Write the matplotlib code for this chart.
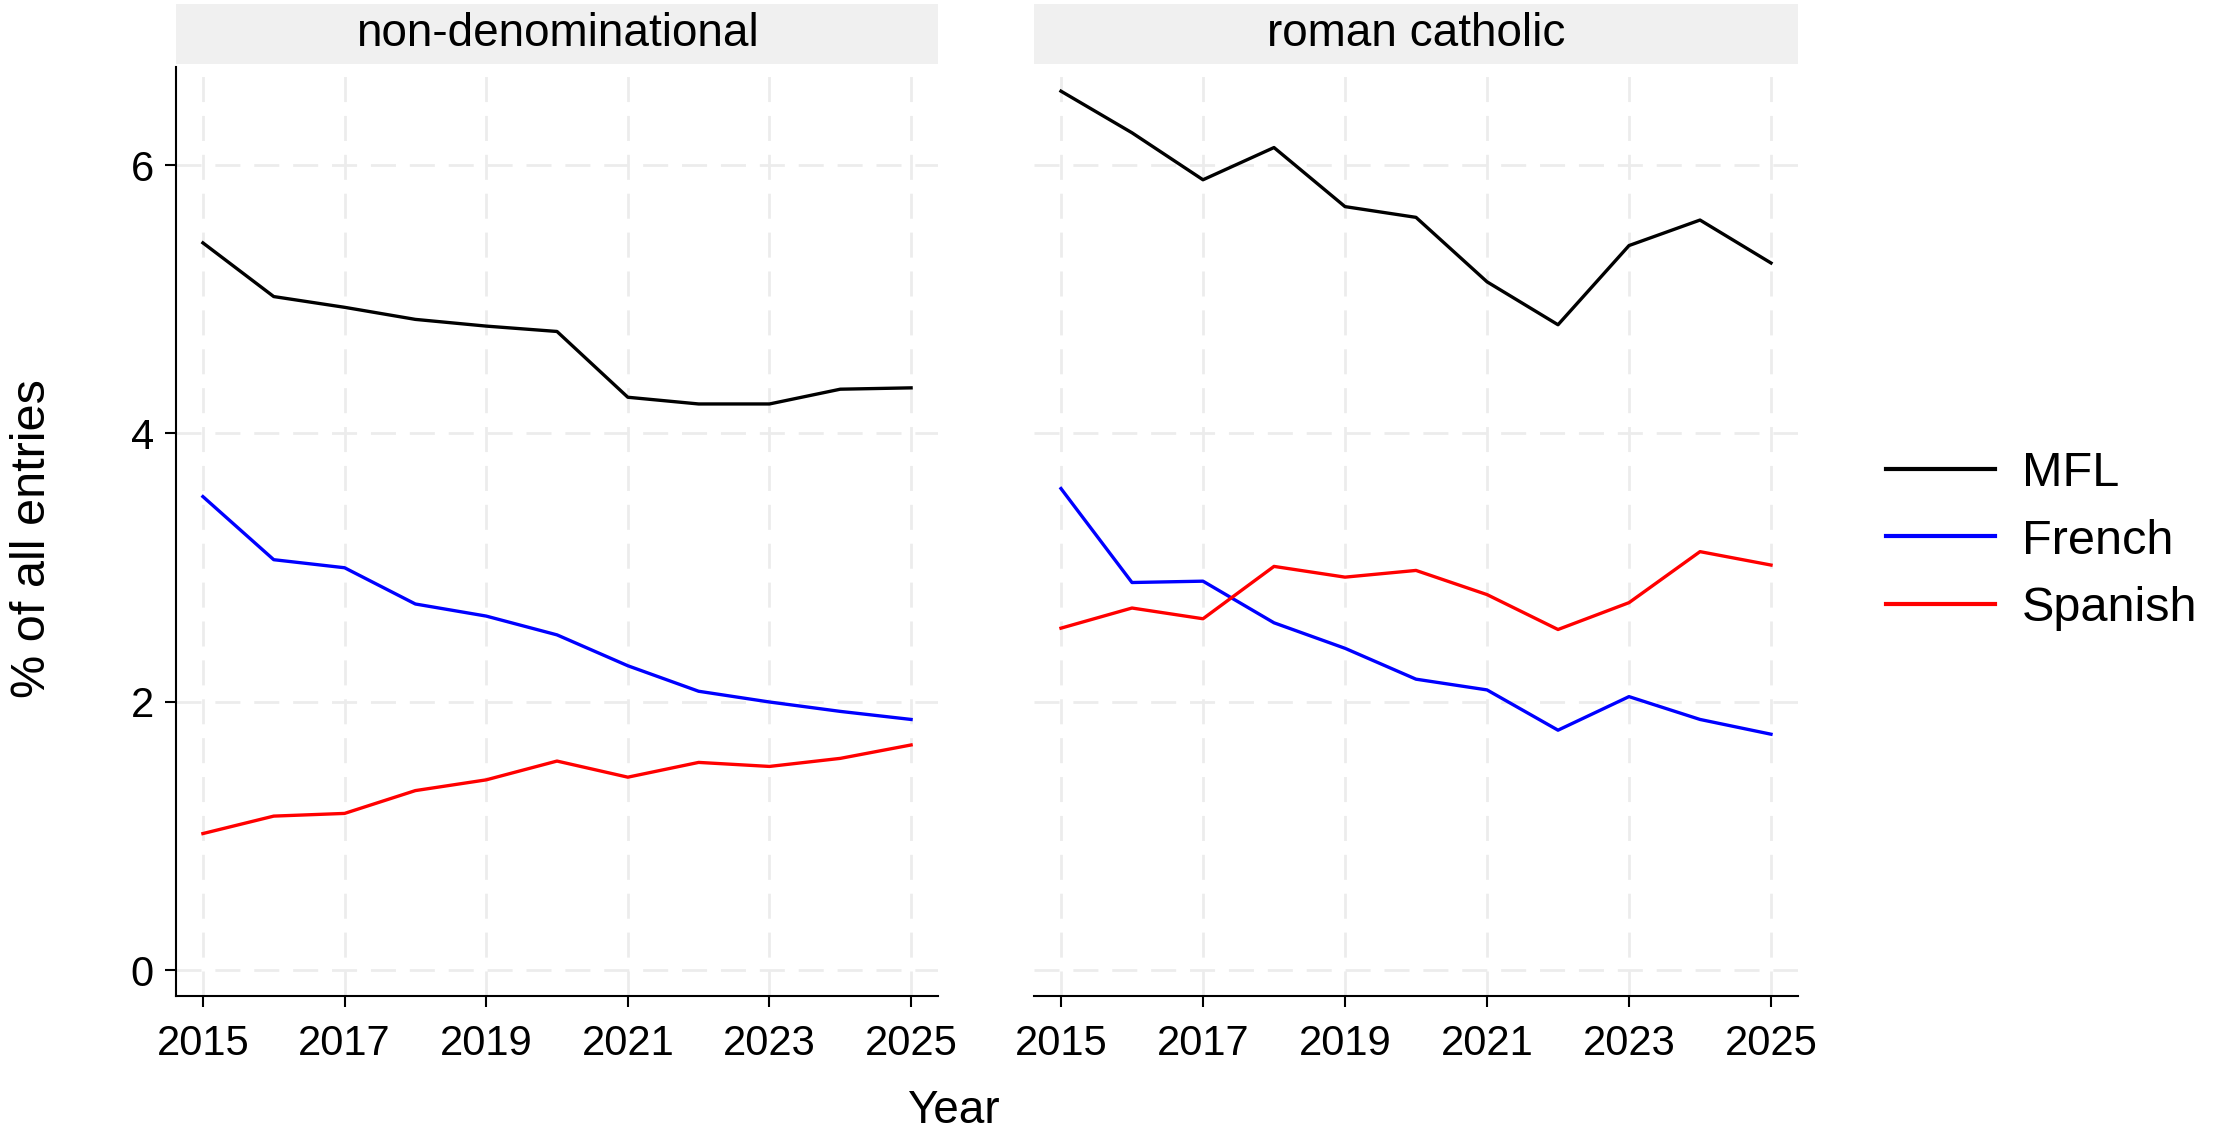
import numpy as np
import matplotlib
matplotlib.use("Agg")
import matplotlib.pyplot as plt
from matplotlib.patches import Rectangle

plt.rcParams['font.family'] = ['Liberation Sans', 'DejaVu Sans']

years = list(range(2015, 2026))
panels = ["non-denominational", "roman catholic"]
languages = ["MFL", "French", "Spanish"]
colors = ["black", "blue", "red"]

# % of all entries
mfl_nondenom = [5.42, 5.02, 4.94, 4.85, 4.80, 4.76, 4.27, 4.22, 4.22, 4.33, 4.34]
french_nondenom = [3.53, 3.06, 3.00, 2.73, 2.64, 2.50, 2.27, 2.08, 2.00, 1.93, 1.87]
spanish_nondenom = [1.02, 1.15, 1.17, 1.34, 1.42, 1.56, 1.44, 1.55, 1.52, 1.58, 1.68]

mfl_catholic = [6.55, 6.24, 5.89, 6.13, 5.69, 5.61, 5.13, 4.81, 5.40, 5.59, 5.27]
french_catholic = [3.59, 2.89, 2.90, 2.59, 2.40, 2.17, 2.09, 1.79, 2.04, 1.87, 1.76]
spanish_catholic = [2.55, 2.70, 2.62, 3.01, 2.93, 2.98, 2.80, 2.54, 2.74, 3.12, 3.02]

data = {
    "non-denominational": [mfl_nondenom, french_nondenom, spanish_nondenom],
    "roman catholic": [mfl_catholic, french_catholic, spanish_catholic],
}

W, H = 2228, 1138
fig = plt.figure(figsize=(W / 100, H / 100), dpi=100)

def px_axes(x0, x1, y0, y1):
    return fig.add_axes([x0 / W, 1 - y1 / H, (x1 - x0) / W, (y1 - y0) / H])

axes = [px_axes(176, 938, 67, 996), px_axes(1034, 1798, 67, 996)]

grid_kw = dict(color="#ececec", linewidth=2.0, linestyle=(0, (9, 5)), zorder=0)

for i, (ax, name) in enumerate(zip(axes, panels)):
    for vals, lang, c in zip(data[name], languages, colors):
        ax.plot(years, vals, color=c, linewidth=2.4, label=lang, zorder=3)
    ax.set_xlim(2014.62, 2025.38)
    ax.set_ylim(-0.19, 6.73)
    ax.set_xticks([2015, 2017, 2019, 2021, 2023, 2025])
    ax.set_yticks([0, 2, 4, 6])
    for x in [2015, 2017, 2019, 2021, 2023, 2025]:
        ax.axvline(x, **grid_kw)
    for y in [0, 2, 4, 6]:
        ax.axhline(y, **grid_kw)
    for s in ["top", "right"]:
        ax.spines[s].set_visible(False)
    ax.spines["bottom"].set_linewidth(1.5)
    ax.spines["left"].set_linewidth(1.5)
    ax.tick_params(axis="x", length=8, width=1.5, pad=12, labelsize=30)
    ax.tick_params(axis="y", length=8, width=1.5, pad=8, labelsize=30)
    if i == 1:
        ax.spines["left"].set_visible(False)
        ax.tick_params(axis="y", left=False, labelleft=False)
    # facet strip
    ax.add_patch(Rectangle((0, 1.003), 1, 0.065, transform=ax.transAxes,
                           facecolor="#f0f0f0", edgecolor="none", clip_on=False))
    ax.text(0.5, 1.0355, name, transform=ax.transAxes, ha="center", va="center",
            fontsize=33)

fig.text(33 / W, 1 - 539 / H, "% of all entries", rotation=90, ha="center",
         va="center", fontsize=35)
fig.text(953 / W, 1 - 1111 / H, "Year", ha="center", va="center", fontsize=33)

handles, labels = axes[0].get_legend_handles_labels()
leg = fig.legend(handles, labels, loc="center left", bbox_to_anchor=(1842 / W, 1 - 541 / H),
                 frameon=False, fontsize=35, handlelength=2.25, handletextpad=0.55,
                 labelspacing=0.46)
for line in leg.get_lines():
    line.set_linewidth(3.0)

fig.savefig("out.png", dpi=100)
